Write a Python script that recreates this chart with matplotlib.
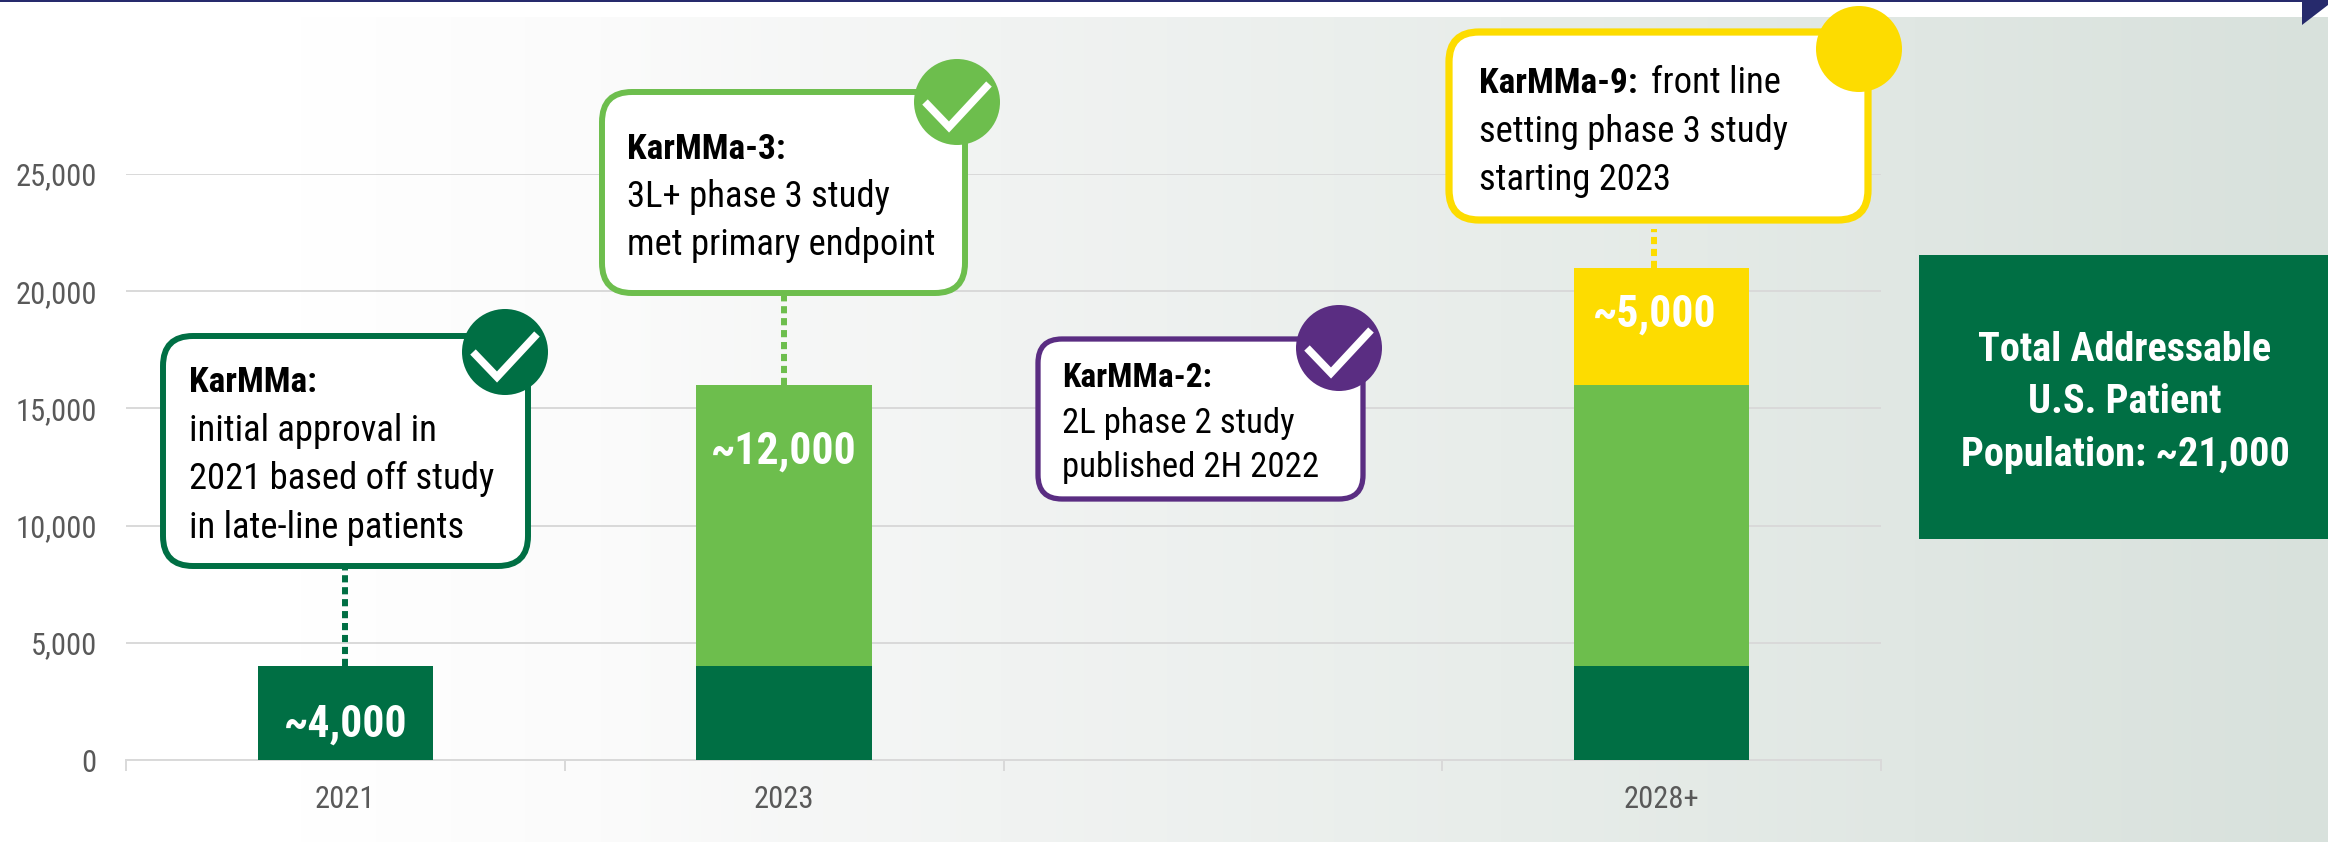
import numpy as np
import matplotlib
matplotlib.use('Agg')
import matplotlib.pyplot as plt
from matplotlib.colors import to_rgb
from matplotlib.patches import FancyBboxPatch, Circle, Rectangle, Polygon

# chart data
categories = ['2021', '2023', '', '2028+']
base_values = [4000, 4000, 0, 4000]
mid_values = [0, 12000, 0, 12000]
top_values = [0, 0, 0, 5000]
y_ticks = [0, 5000, 10000, 15000, 20000, 25000]
bar_labels = ['~4,000', '~12,000', '', '~5,000']

DARK = '#006f44'
LIGHT = '#6dbe4d'
PURPLE = '#5a2d82'
YELLOW = '#fddc00'
NAVY = '#262a6c'
GRID = '#d9d9d9'

W, H = 2328, 842
plt.rcParams['font.family'] = ['Roboto Condensed', 'Liberation Sans']

fig = plt.figure(figsize=(W / 100, H / 100), dpi=100)

# background layer, pixel coordinates
bg = fig.add_axes([0, 0, 1, 1], zorder=0)
stops_x = [0, 300, 600, 1000, 1500, 2328]
stops_c = ['#ffffff', '#ffffff', '#fbfbfb', '#f1f3f2', '#e8edea', '#d8e1dc']
xs = np.arange(W)
rgb = np.array([to_rgb(c) for c in stops_c])
grad = np.stack([np.interp(xs, stops_x, rgb[:, i]) for i in range(3)], axis=-1)[None, :, :]
bg.imshow(grad, extent=(0, W, H, 17), aspect='auto', zorder=0)
bg.set_xlim(0, W)
bg.set_ylim(H, 0)
bg.axis('off')
bg.add_patch(Rectangle((0, 0), W, 1.5, color=NAVY, lw=0))

# chart layer
ax = fig.add_axes([126 / W, 1 - 760 / H, (1881 - 126) / W, 586 / H], zorder=1)
ax.patch.set_alpha(0)
pos = np.arange(len(categories))
bw = 0.4
ax.bar(pos, base_values, bw, color=DARK, zorder=3)
ax.bar(pos, mid_values, bw, bottom=base_values, color=LIGHT, zorder=3)
bottoms = np.array(base_values) + np.array(mid_values)
ax.bar(pos, top_values, bw, bottom=bottoms, color=YELLOW, zorder=3)
ax.set_xlim(-0.5, 3.5)
ax.set_ylim(0, 25000)
ax.set_yticks(y_ticks)
ax.set_yticklabels([f'{v:,}' for v in y_ticks], fontsize=22, color='#595959')
ax.set_xticks(pos)
ax.set_xticklabels(categories, fontsize=22, color='#595959')
ax.set_xticks(np.arange(-0.5, 4), minor=True)
ax.tick_params(axis='x', which='major', length=0, pad=18)
ax.tick_params(axis='x', which='minor', length=8, width=1.4, color=GRID)
ax.tick_params(axis='y', length=0, pad=21)
ax.grid(axis='y', color=GRID, lw=1.4, zorder=1)
ax.set_axisbelow(True)
for s in ['top', 'left', 'right']:
    ax.spines[s].set_visible(False)
ax.spines['bottom'].set_color(GRID)
ax.spines['bottom'].set_linewidth(1.4)

# dotted connectors from bar tops up to the boxes
totals = bottoms + np.array(top_values)
for i, off, end, c in [(0, 0, 8200, DARK), (1, 0, 19800, LIGHT), (3, -0.017, 22650, YELLOW)]:
    ax.plot([pos[i] + off, pos[i] + off], [totals[i], end], color=c, lw=4.3, dashes=(1.2, 0.8),
            dash_capstyle='butt', zorder=2)

# value labels in the bars
ax.text(0, 1500, bar_labels[0], color='white', fontsize=31.5, fontweight='bold', ha='center', va='center', zorder=4)
ax.text(1, 13150, bar_labels[1], color='white', fontsize=31.5, fontweight='bold', ha='center', va='center', zorder=4)
ax.text(2.985, 19000, bar_labels[3], color='white', fontsize=31.5, fontweight='bold', ha='center', va='center', zorder=4)

# callouts layer, pixel coordinates
top = fig.add_axes([0, 0, 1, 1], zorder=2)
top.set_xlim(0, W)
top.set_ylim(H, 0)
top.axis('off')


def callout(x0, y0, x1, y1, color, cx, cy, check=True, r=30, lw=4.3):
    top.add_patch(FancyBboxPatch((x0 + 3, y0 + 3), x1 - x0 - 6, y1 - y0 - 6,
                                 boxstyle=f'round,pad=0,rounding_size={r}',
                                 fc='white', ec=color, lw=lw, zorder=2))
    top.add_patch(Circle((cx, cy), 43, fc=color, ec='none', zorder=3))
    if check:
        top.plot([cx - 32, cx - 8, cx + 32], [cy, cy + 25, cy - 18], color='white',
                 lw=5.5, solid_joinstyle='miter', solid_capstyle='butt', zorder=4)


callout(160, 333, 531, 569, DARK, 505, 352)
callout(599, 89, 968, 296, LIGHT, 957, 102)
callout(1035, 336, 1366, 502, PURPLE, 1339, 348, r=24, lw=3.8)
callout(1446, 29, 1871, 223, YELLOW, 1859, 49, check=False, lw=5.2)


def label(x, y, s, size=26.4, bold=False):
    top.text(x, y, s, fontsize=size, fontweight='bold' if bold else 'normal',
             color='black', va='baseline', ha='left', zorder=5)


label(189, 392, 'KarMMa:', size=25.5, bold=True)
label(189, 441, 'initial approval in')
label(189, 489, '2021 based off study')
label(189, 538, 'in late-line patients')

label(627, 159, 'KarMMa-3:', size=25.5, bold=True)
label(627, 207, '3L+ phase 3 study')
label(627, 255, 'met primary endpoint')

label(1062, 387, 'KarMMa-2:', size=24, bold=True)
label(1062, 433, '2L phase 2 study', size=25)
label(1062, 477, 'published 2H 2022', size=25)

label(1479, 93, 'KarMMa-9:', size=25.5, bold=True)
label(1651, 93, 'front line')
label(1479, 142, 'setting phase 3 study')
label(1479, 190, 'starting 2023')

# side panel
top.add_patch(Rectangle((1919, 255), W - 1919, 284, color=DARK, lw=0, zorder=2))
for y, s in [(350, 'Total Addressable'), (402, 'U.S. Patient'), (455, 'Population: ~21,000')]:
    top.text(2125, y, s, color='white', fontsize=29, fontweight='bold', ha='center', va='center', zorder=5)

# corner triangle
top.add_patch(Polygon([(2302, 0), (W, 0), (W, 5), (2302, 25)], color=NAVY, lw=0, zorder=6))

fig.savefig('out.png', dpi=100)
